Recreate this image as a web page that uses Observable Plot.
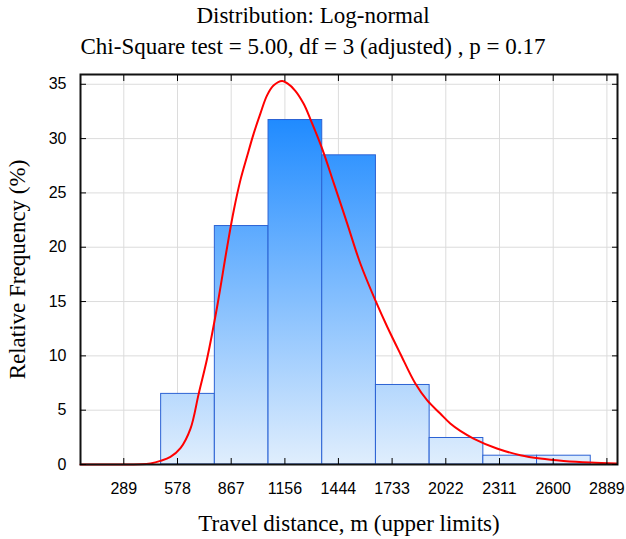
<!DOCTYPE html>
<html>
<head>
<meta charset="utf-8">
<script src="https://cdn.jsdelivr.net/npm/d3@7"></script>
<script src="https://cdn.jsdelivr.net/npm/@observablehq/plot@0.6"></script>
<style>
  body { margin: 0; background: #fff; }
  #wrap { position: relative; width: 626px; height: 539px; overflow: hidden; }
  .t { position: absolute; left: 0; width: 626px; text-align: center; font-family: "Liberation Serif", "Times New Roman", serif; font-size: 23px; line-height: 26px; color: #000; white-space: nowrap; }
  #chart { position: absolute; left: 0; top: 60px; }
  g[aria-label="x-axis label"], g[aria-label="y-axis label"] { font-family: "Liberation Serif", "Times New Roman", serif; font-size: 23px; }
</style>
</head>
<body>
<div id="wrap">
  <div class="t" style="top:3px">Distribution: Log-normal</div>
  <div class="t" style="top:34px">Chi-Square test = 5.00, df = 3 (adjusted) , p = 0.17</div>
  <div id="chart"></div>
</div>
<script>
// Histogram bins (travel distance, m) and relative frequencies (%)
const binLower = [490, 779, 1068, 1357, 1646, 1935, 2224, 2513];
const binUpper = [779, 1068, 1357, 1646, 1935, 2224, 2513, 2802];
const relFreq  = [6.50, 21.95, 31.71, 28.46, 7.32, 2.44, 0.81, 0.81];

// Axis ticks
const xTicks = [289, 578, 867, 1156, 1444, 1733, 2022, 2311, 2600, 2889];
const yTicks = [0, 5, 10, 15, 20, 25, 30, 35];

// Fitted log-normal curve
const fitX = [56, 200, 380, 433, 486, 540, 594, 648, 692, 738, 791, 845, 881, 917, 953, 988, 1024, 1060, 1096, 1141, 1168, 1212, 1257, 1293, 1356, 1419, 1491, 1562, 1643, 1706, 1777, 1858, 1921, 1992, 2046, 2100, 2171, 2297, 2423, 2530, 2656, 2799, 2944];
const fitY = [0, 0, 0.02, 0.1, 0.33, 0.7, 1.5, 3.3, 6.5, 9.8, 14.5, 20.0, 23.4, 26.2, 28.4, 30.46, 32.3, 33.98, 34.9, 35.3, 35.1, 34.4, 33.2, 31.8, 29.1, 25.9, 22.2, 18.5, 15.1, 12.7, 10.2, 7.45, 5.92, 4.69, 3.77, 3.09, 2.39, 1.47, 0.86, 0.55, 0.33, 0.18, 0.1];

const bars = binLower.map((x1, i) => ({x1, x2: binUpper[i], y: relFreq[i]}));
const fit = fitX.map((x, i) => ({x, y: fitY[i]}));

const gridStyle = {stroke: "#dcdcdc", strokeOpacity: 1, strokeWidth: 1};
const plain = d => String(d);

const chart = Plot.plot({
  width: 626,
  height: 479,
  marginTop: 14,
  marginRight: 9,
  marginBottom: 75,
  marginLeft: 80,
  style: {fontFamily: "'Liberation Sans', Arial, sans-serif", fontSize: "16px", color: "#000", background: "#fff"},
  x: {domain: [56, 2946]},
  y: {domain: [0, 35.9]},
  marks: [
    Plot.gridX(xTicks, gridStyle),
    Plot.gridY(yTicks, gridStyle),
    Plot.rectY(bars, {x1: "x1", x2: "x2", y: "y", fill: "url(#barGrad)", stroke: "#2b62d4", strokeWidth: 1}),
    Plot.line(fit, {x: "x", y: "y", stroke: "#ff0000", strokeWidth: 2, curve: "catmull-rom"}),
    Plot.frame({stroke: "#111", strokeWidth: 2}),
    Plot.axisX(xTicks, {anchor: "bottom", tickSize: -6, tickPadding: 24, tickFormat: plain, label: "Travel distance, m (upper limits)", labelArrow: "none", labelAnchor: "center", labelOffset: 66}),
    Plot.axisX(xTicks, {anchor: "top", tickSize: -6, tickFormat: () => "", label: null}),
    Plot.axisY(yTicks, {anchor: "left", tickSize: -6, tickPadding: 20, tickFormat: plain, label: "Relative Frequency (%)", labelArrow: "none", labelAnchor: "center", labelOffset: 72}),
    Plot.axisY(yTicks, {anchor: "right", tickSize: -6, tickFormat: () => "", label: null})
  ]
});

// Vertical gradient for the bars, positioned with the y scale
const ys = chart.scale("y");
const svg = d3.select(chart.tagName.toLowerCase() === "svg" ? chart : chart.querySelector("svg"));
const grad = svg.insert("defs", ":first-child")
  .append("linearGradient")
  .attr("id", "barGrad")
  .attr("gradientUnits", "userSpaceOnUse")
  .attr("x1", 0).attr("x2", 0)
  .attr("y1", ys.apply(32)).attr("y2", ys.apply(0));
grad.append("stop").attr("offset", 0).attr("stop-color", "#1e8aff");
grad.append("stop").attr("offset", 1).attr("stop-color", "#e0eefd");

document.getElementById("chart").appendChild(chart);
</script>
</body>
</html>
